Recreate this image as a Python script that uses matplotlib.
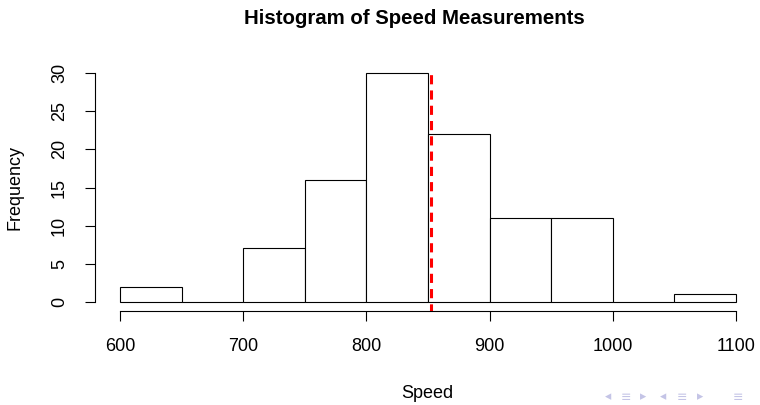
"""Histogram of speed measurements (Michelson-style data) with mean marker."""

import matplotlib
matplotlib.use("Agg")

import matplotlib.pyplot as plt
import numpy as np

# --- data ---
bin_edges = [600, 650, 700, 750, 800, 850, 900, 950, 1000, 1050, 1100]
counts = [2, 0, 7, 16, 30, 22, 11, 11, 0, 1]
mean_speed = 852.4
x_ticks = [600, 700, 800, 900, 1000, 1100]
y_ticks = [0, 5, 10, 15, 20, 25, 30]

W, H = 760, 405

plt.rcParams.update({
    "font.family": ["Liberation Sans", "DejaVu Sans"],
    "font.size": 13,
    "axes.linewidth": 0.8,
    "xtick.major.width": 0.8,
    "ytick.major.width": 0.8,
    "xtick.major.size": 7.5,
    "ytick.major.size": 7.5,
    "xtick.major.pad": 12,
    "ytick.major.pad": 12,
})

fig = plt.figure(figsize=(W / 100, H / 100), dpi=100)

# plot region in pixels: left 95, right 760, top 64, bottom 311
left, right, top, bottom = 95, 760, 64, 311
ax = fig.add_axes([left / W, 1 - bottom / H, (right - left) / W, (bottom - top) / H])

px_per_x = (736 - 120) / 500.0
ax.set_xlim(600 - (120 - left) / px_per_x, 1100 + (right - 736) / px_per_x)
ax.set_ylim(-1.2, 31.2)

edges = np.array(bin_edges)
ax.bar(edges[:-1], counts, width=np.diff(edges), align="edge",
       facecolor="white", edgecolor="black", linewidth=0.8)

ax.vlines(mean_speed, -1.4, 30, colors="red", linewidth=2.2,
          linestyles=[(0, (3.0, 2.0))], zorder=5)

for s in ["top", "right"]:
    ax.spines[s].set_visible(False)
ax.spines["left"].set_bounds(0, 30)
ax.spines["bottom"].set_bounds(600, 1100)

ax.set_xticks(x_ticks)
ax.set_yticks(y_ticks)
ax.set_yticklabels([str(v) for v in y_ticks], rotation=90, va="center")

fig.text(414 / W, 1 - 18 / H, "Histogram of Speed Measurements",
         ha="center", va="center", fontsize=14.7, fontweight="bold")
fig.text(427.5 / W, 1 - 394 / H, "Speed", ha="center", va="center", fontsize=13)
fig.text(15 / W, 1 - 187.5 / H, "Frequency", ha="center", va="center",
         rotation=90, fontsize=13)

# beamer navigation symbols (faint, bottom right)
nav = [(608, "◂"), (626, "≡"), (643, "▸"), (663, "◂"), (682, "≡"), (700, "▸"), (738, "≡")]
for xp, ch in nav:
    fig.text(xp / W, 1 - 397 / H, ch, ha="center", va="center", fontsize=9,
             color="#c4c4e6", family="DejaVu Sans")

fig.savefig("out.png", dpi=100)
